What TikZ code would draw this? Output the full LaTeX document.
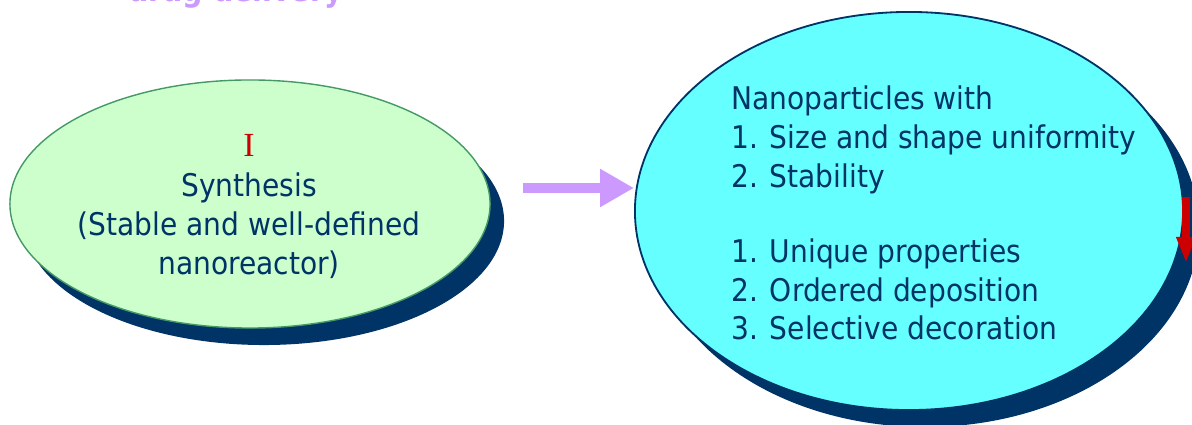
\documentclass[tikz,border=0pt]{standalone}
\usepackage{fontspec}
\setmainfont{DejaVu Sans Condensed}
\newfontfamily\romanI{Liberation Serif}
\usetikzlibrary{shapes.geometric,arrows.meta}
\definecolor{navy}{HTML}{003366}
\definecolor{mint}{HTML}{CCFFCC}
\definecolor{mintedge}{HTML}{449966}
\definecolor{aqua}{HTML}{66FFFF}
\definecolor{lilac}{HTML}{CC99FF}
\definecolor{darkred}{HTML}{CC0000}
\tikzset{
  blob/.style={ellipse, inner sep=0pt, line width=1pt},
  shade/.style={blob, fill=navy},
  txt/.style={inner sep=0pt, text=navy, font=\fontsize{22.2}{27.6}\selectfont},
}
\begin{document}
\begin{tikzpicture}[x=0.025cm,y=-0.025cm]
\useasboundingbox (0,0) rectangle (1192,425);
% title fragment (cut off at top)
\node[anchor=base west, inner sep=0pt, text=lilac, font=\fontsize{22.5}{25}\selectfont\bfseries] (title) at (128,2) {drug delivery};
% left ellipse
\node[shade, minimum width=12cm, minimum height=6.2cm] (lsh) at (264,221) {};
\node[blob, draw=mintedge, fill=mint, minimum width=12cm, minimum height=6.2cm] (left) at (250,204) {};
\node[txt, anchor=north, align=center] (ltxt) at (249,134) {{\romanI\fontsize{24}{27.6}\selectfont\color{darkred}I}\\[1pt]Synthesis\\(Stable and well-defined\\nanoreactor)};
% right ellipse
\node[shade, minimum width=13.7cm, minimum height=9.95cm] (rsh) at (925,228) {};
\node[blob, draw=navy, line width=1.3pt, fill=aqua, minimum width=13.7cm, minimum height=9.95cm] (right) at (909,211) {};
\node[txt, anchor=north west, align=left] (rtxt) at (731,86) {Nanoparticles with\\1. Size and shape uniformity\\2. Stability\\[25.5pt]1. Unique properties\\2. Ordered deposition\\3. Selective decoration};
% purple arrow
\coordinate (astart) at (523,188);
\draw[lilac, line width=0.25cm, -{Triangle[length=0.85cm,width=0.9cm]}] (astart) -- (astart -| right.west);
% red arrow
\coordinate (rtop) at (1186,197);
\coordinate (rbot) at (1186,263);
\draw[darkred, line width=0.2cm, -{Triangle[length=0.65cm,width=0.45cm]}] (rtop) -- (rbot);
\end{tikzpicture}
\end{document}
